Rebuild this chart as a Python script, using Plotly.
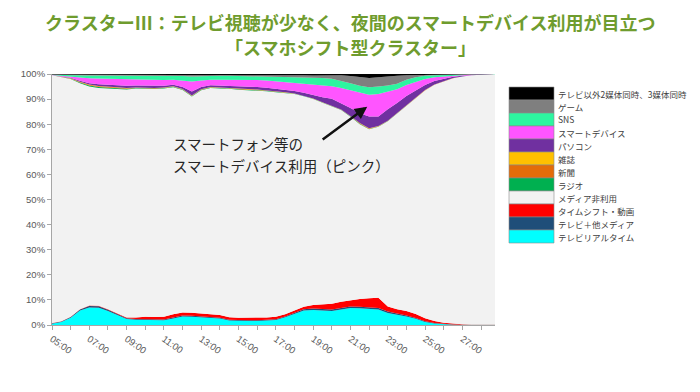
import plotly.graph_objects as go

# ---- data (percent of people, 30-min resolution) ----
times = [5.0, 5.5, 6.0, 6.5, 7.0, 7.5, 8.0, 8.5, 9.0, 9.5, 10.0, 10.5, 11.0, 11.5, 12.0, 12.5,
         13.0, 13.5, 14.0, 14.5, 15.0, 15.5, 16.0, 16.5, 17.0, 17.5, 18.0, 18.5, 19.0, 19.5,
         20.0, 20.5, 21.0, 21.5, 22.0, 22.5, 23.0, 23.5, 24.0, 24.5, 25.0, 25.5, 26.0, 26.5,
         27.0, 27.5, 28.0, 28.5, 28.75]

tv_real = [0.5, 1.2, 2.9, 5.8, 7.0, 6.9, 5.6, 4.0, 2.4, 2.1, 2.0, 1.8, 1.9, 2.6, 3.4, 3.3,
           3.0, 2.8, 2.6, 1.8, 1.6, 1.6, 1.6, 1.7, 2.0, 3.1, 4.4, 5.8, 6.0, 5.9, 5.6, 6.2,
           6.8, 6.7, 6.5, 6.2, 4.8, 4.2, 3.4, 2.5, 1.2, 0.6, 0.3, 0.1, 0.1, 0.1, 0.1, 0.1, 0.1]
tv_other = [0.2, 0.2, 0.3, 0.4, 0.6, 0.6, 0.5, 0.4, 0.3, 0.3, 0.3, 0.3, 0.3, 0.4, 0.4, 0.4,
            0.4, 0.4, 0.3, 0.3, 0.3, 0.3, 0.3, 0.3, 0.3, 0.3, 0.4, 0.5, 0.6, 0.6, 0.6, 0.6,
            0.6, 0.6, 0.6, 0.6, 0.6, 0.5, 0.4, 0.3, 0.3, 0.2, 0.1, 0.1, 0.0, 0.0, 0.0, 0.0, 0.0]
timeshift = [0.1, 0.1, 0.1, 0.1, 0.2, 0.2, 0.2, 0.2, 0.3, 0.6, 1.0, 1.1, 1.1, 1.3, 1.2, 1.2,
             1.1, 1.1, 1.1, 1.0, 1.0, 1.0, 1.0, 1.0, 1.0, 0.9, 1.0, 1.0, 1.4, 1.7, 2.3, 2.5,
             2.6, 3.1, 3.6, 4.1, 2.0, 1.6, 1.8, 1.6, 1.2, 0.8, 0.5, 0.3, 0.2, 0.1, 0.1, 0.1, 0.1]
radio = [0, 0.1, 0.15, 0.3, 0.4, 0.4, 0.4, 0.3, 0.3, 0.2, 0.2, 0.2, 0.2, 0.2, 0.2, 0.2,
         0.2, 0.2, 0.2, 0.2, 0.2, 0.2, 0.2, 0.2, 0.2, 0.1, 0.1, 0.1, 0.1, 0.1, 0.1, 0.1,
         0.15, 0.2, 0.1, 0.1, 0.05, 0.05, 0.05, 0.05, 0.05, 0.02, 0.02, 0.02, 0, 0, 0, 0, 0]
newspaper = [0, 0.05, 0.1, 0.2, 0.3, 0.3, 0.2, 0.2, 0.2, 0.1, 0.1, 0.1, 0.1, 0.1, 0.1, 0.1,
             0.1, 0.1, 0.1, 0.1, 0.1, 0.1, 0.1, 0.1, 0.1, 0.1, 0.05, 0.05, 0.05, 0.05, 0.05, 0.05,
             0.1, 0.2, 0.2, 0.1, 0.1, 0.1, 0.1, 0.1, 0.1, 0.05, 0.05, 0.03, 0, 0, 0, 0, 0]
magazine = [0, 0.02, 0.05, 0.1, 0.1, 0.1, 0.1, 0.1, 0.1, 0.05, 0.05, 0.05, 0.05, 0.05, 0.05, 0.1,
            0.05, 0.05, 0.05, 0.05, 0.05, 0.05, 0.05, 0.05, 0.05, 0.05, 0.05, 0.05, 0.05, 0.05, 0.05, 0.05,
            0.05, 0.1, 0.1, 0.1, 0.05, 0.05, 0.05, 0.05, 0.05, 0.03, 0.03, 0.02, 0, 0, 0, 0, 0]
pc = [0.05, 0.1, 0.2, 0.4, 0.5, 0.7, 0.8, 0.8, 0.9, 0.8, 0.8, 0.8, 0.7, 0.6, 0.8, 1.6,
      0.9, 0.7, 0.8, 0.8, 0.9, 0.9, 1.0, 1.0, 1.0, 1.0, 1.0, 1.2, 1.3, 2.0, 2.7, 2.5,
      3.2, 3.9, 4.7, 3.8, 4.6, 4.0, 3.6, 2.8, 2.0, 1.4, 1.0, 0.5, 0.3, 0.15, 0.07, 0.03, 0.02]
smart = [0.1, 0.3, 0.6, 1.3, 2.0, 2.3, 2.5, 2.5, 2.5, 2.3, 2.4, 2.4, 2.3, 2.0, 2.6, 4.0,
         2.6, 2.2, 2.3, 2.4, 2.6, 2.7, 2.8, 2.9, 3.0, 3.1, 3.2, 3.7, 4.3, 4.8, 5.0, 6.0,
         7.0, 8.0, 8.6, 8.9, 6.9, 5.5, 4.4, 3.4, 2.4, 1.5, 1.0, 0.5, 0.3, 0.15, 0.1, 0.04, 0.02]
sns = [0.1, 0.3, 0.5, 0.9, 1.1, 1.2, 1.3, 1.4, 1.5, 1.6, 1.6, 1.7, 1.7, 1.6, 1.8, 2.0,
       1.8, 1.6, 1.6, 1.6, 1.6, 1.6, 1.6, 1.7, 1.8, 2.0, 2.3, 2.5, 2.7, 2.9, 3.0, 2.9,
       2.8, 2.9, 3.0, 3.0, 2.5, 2.2, 2.1, 1.9, 1.3, 0.8, 0.6, 0.4, 0.2, 0.1, 0.05, 0.03, 0.02]
game = [0.05, 0.1, 0.1, 0.2, 0.3, 0.3, 0.3, 0.3, 0.3, 0.3, 0.3, 0.3, 0.3, 0.3, 0.4, 0.5,
        0.4, 0.3, 0.3, 0.3, 0.4, 0.4, 0.4, 0.5, 0.6, 0.7, 0.8, 0.8, 0.9, 1.0, 1.3, 2.2,
        2.9, 3.5, 3.7, 3.7, 3.7, 3.2, 1.8, 0.9, 0.4, 0.3, 0.2, 0.1, 0.1, 0.05, 0.03, 0.02, 0.02]
multi = [0.2, 0.3, 0.3, 0.3, 0.3, 0.3, 0.3, 0.3, 0.4, 0.4, 0.4, 0.4, 0.4, 0.4, 0.4, 0.5,
         0.4, 0.4, 0.4, 0.4, 0.4, 0.4, 0.4, 0.4, 0.5, 0.5, 0.5, 0.5, 0.6, 0.6, 0.6, 0.5,
         0.8, 1.2, 1.6, 1.3, 0.9, 0.7, 0.5, 0.4, 0.3, 0.2, 0.2, 0.1, 0.1, 0.05, 0.05, 0.03, 0.02]

others = [tv_real, tv_other, timeshift, radio, newspaper, magazine, pc, smart, sns, game, multi]
no_media = [round(100 - sum(s[i] for s in others), 3) for i in range(len(times))]

# stacking order: bottom -> top
series = [
    ("テレビリアルタイム", tv_real, "#00ffff"),
    ("テレビ＋他メディア", tv_other, "#1f4e79"),
    ("タイムシフト・動画", timeshift, "#ff0000"),
    ("メディア非利用", no_media, "#f2f2f2"),
    ("ラジオ", radio, "#00b050"),
    ("新聞", newspaper, "#e36c09"),
    ("雑誌", magazine, "#ffc000"),
    ("パソコン", pc, "#7030a0"),
    ("スマートデバイス", smart, "#ff55ff"),
    ("SNS", sns, "#2ef5a0"),
    ("ゲーム", game, "#7f7f7f"),
    ("テレビ以外2媒体同時、3媒体同時", multi, "#000000"),
]

hour_ticks = list(range(5, 29))
hour_labels = [f"{h:02d}:00" if h % 2 == 1 else "" for h in hour_ticks]
pct_ticks = list(range(0, 101, 10))
pct_labels = [f"{p}%" for p in pct_ticks]

title_line1 = "クラスターⅢ：テレビ視聴が少なく、夜間のスマートデバイス利用が目立つ"
title_line2 = "「スマホシフト型クラスター」"
callout1 = "スマートフォン等の"
callout2 = "スマートデバイス利用（ピンク）"

fig = go.Figure()
for name, vals, col in series:
    fig.add_trace(go.Scatter(
        x=times, y=vals, name=name, mode="lines", stackgroup="one",
        line=dict(width=0, color=col), fillcolor=col, showlegend=False))

# ---- layout geometry (page body has an 8px margin) ----
OFF = 8
W, H = 684, 376
L, T = 52 - OFF, 74 - OFF
pw, ph = 443, 251
R = W - L - pw
B = H - T - ph
SCREEN_L, SCREEN_B = 52, 325

def px(x):   # screen pixel -> paper x
    return (x - SCREEN_L) / pw

def py(y):   # screen pixel -> paper y
    return (SCREEN_B - y) / ph

shapes = []
annotations = []

# manual legend (top to bottom = reverse stacking order)
sw_x0, sw_x1 = 509, 554
top0, step = 87, 13
for i, (name, vals, col) in enumerate(reversed(series)):
    y0 = top0 + i * step
    shapes.append(dict(type="rect", xref="paper", yref="paper",
                       x0=px(sw_x0), x1=px(sw_x1), y0=py(y0 + step), y1=py(y0),
                       fillcolor=col, line=dict(color="#8c8c8c", width=0.6)))
    annotations.append(dict(xref="paper", yref="paper", x=px(556), y=py(y0 + step / 2),
                            text=name, showarrow=False, xanchor="left", yanchor="middle",
                            font=dict(size=8.5, color="#404040", family="Noto Sans CJK JP")))

# title (two centred lines)
for txt, yy in ((title_line1, 22), (title_line2, 47)):
    annotations.append(dict(xref="paper", yref="paper", x=px(350), y=py(yy),
                            text=f"<b>{txt}</b>", showarrow=False, xanchor="center",
                            yanchor="middle",
                            font=dict(size=18, color="#6f9c2e", family="Noto Sans CJK JP")))

# callout text
for txt, yy in ((callout1, 143), (callout2, 165)):
    annotations.append(dict(xref="paper", yref="paper", x=px(171), y=py(yy),
                            text=txt, showarrow=False, xanchor="left",
                            yanchor="middle", font=dict(size=14.5, color="#262626",
                                                        family="Noto Sans CJK JP")))
# arrow
annotations.append(dict(xref="x", yref="y", x=21.9, y=87, axref="x", ayref="y",
                        ax=19.35, ay=73, text=" ", showarrow=True, arrowhead=2,
                        arrowsize=1, arrowwidth=2.5, arrowcolor="#111111"))

fig.update_layout(
    width=W, height=H,
    margin=dict(l=L, r=R, t=T, b=B, autoexpand=False),
    paper_bgcolor="white", plot_bgcolor="#f2f2f2",
    xaxis=dict(range=[5, 28.75], tickvals=hour_ticks, ticktext=hour_labels,
               tickangle=35, ticks="outside", ticklen=4, tickcolor="#a6a6a6",
               showline=True, linecolor="#a6a6a6", showgrid=False, zeroline=False,
               automargin=False,
               tickfont=dict(size=9.5, color="#595959", family="Liberation Sans")),
    yaxis=dict(range=[0, 100], tickvals=pct_ticks, ticktext=pct_labels,
               ticks="outside", ticklen=4, tickcolor="#a6a6a6",
               showline=True, linecolor="#a6a6a6", showgrid=False, zeroline=False,
               automargin=False,
               tickfont=dict(size=9.5, color="#595959", family="Liberation Sans")),
    shapes=shapes, annotations=annotations,
    showlegend=False,
)

fig.write_html("out.html")
